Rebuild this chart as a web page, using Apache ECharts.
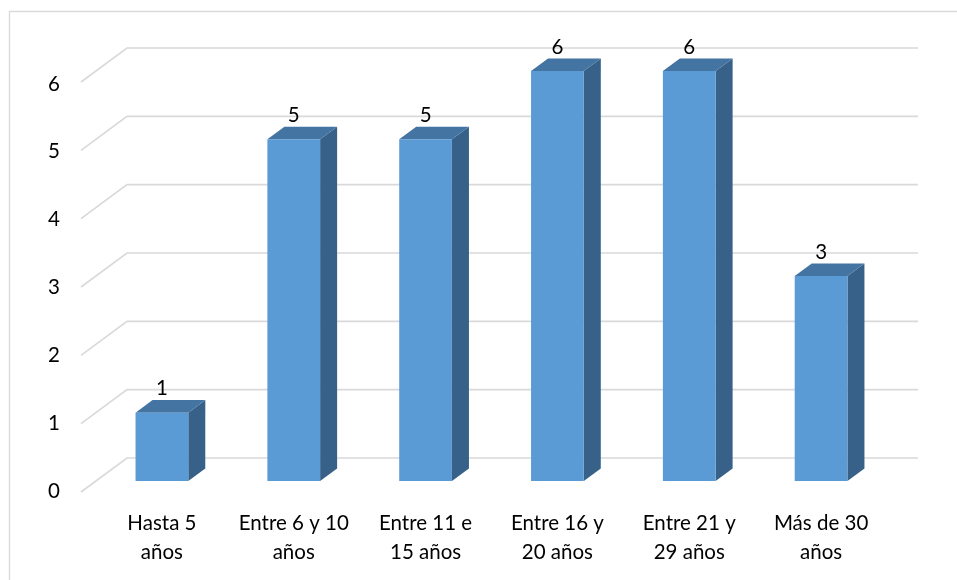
<!DOCTYPE html>
<html>
<head>
<meta charset="utf-8">
<script src="https://cdn.jsdelivr.net/npm/echarts@6/dist/echarts.min.js"></script>
<style>
  html, body { margin: 0; padding: 0; background: #fff; }
  #chart { width: 957px; height: 580px; }
</style>
</head>
<body>
<div id="chart"></div>
<script>
// Years-of-service groups and counts
const categories = ['Hasta 5\naños', 'Entre 6 y 10\naños', 'Entre 11 e\n15 años', 'Entre 16 y\n20 años', 'Entre 21 y\n29 años', 'Más de 30\naños'];
const values = [1, 5, 5, 6, 6, 3];
const yTicks = [0, 1, 2, 3, 4, 5, 6];

// Pseudo-3D projection offsets (pixels)
const WALL_DX = 31, WALL_DY = 23;   // bar front plane -> back wall
const TIP_DX = 15, TIP_DY = 11;     // bar front plane -> front edge of floor
const BAR_DX = 17, BAR_DY = 12.6;   // bar depth
const BAR_RATIO = 0.4;              // bar width relative to category band

const FONT = 'Lato, "Open Sans", sans-serif';
const FONT_SIZE = 20.5;
const GRID_COLOR = '#d9d9d9';

const chart = echarts.init(document.getElementById('chart'));

function renderGridLine(params, api) {
  const v = api.value(0);
  const cs = params.coordSys;
  const y = api.coord([0, v])[1];
  const left = cs.x, right = cs.x + cs.width;
  return {
    type: 'polyline',
    shape: {
      points: [
        [left - TIP_DX, y + TIP_DY],
        [left + WALL_DX, y - WALL_DY],
        [right + WALL_DX, y - WALL_DY]
      ]
    },
    style: { stroke: GRID_COLOR, lineWidth: 1.6, fill: null },
    silent: true
  };
}

function renderBar(params, api) {
  const idx = api.value(0);
  const v = api.value(1);
  const top = api.coord([idx, v]);
  const base = api.coord([idx, 0]);
  const band = api.size([1, 0])[0];
  const w = band * BAR_RATIO;
  const x0 = top[0] - w / 2, x1 = top[0] + w / 2;
  const yt = top[1], yb = base[1];
  return {
    type: 'group',
    children: [
      {
        type: 'polygon',
        shape: { points: [[x1, yt], [x1 + BAR_DX, yt - BAR_DY], [x1 + BAR_DX, yb - BAR_DY], [x1, yb]] },
        style: { fill: '#376189' }
      },
      {
        type: 'polygon',
        shape: { points: [[x0, yt], [x1, yt], [x1 + BAR_DX, yt - BAR_DY], [x0 + BAR_DX, yt - BAR_DY]] },
        style: { fill: '#4474a2' }
      },
      {
        type: 'rect',
        shape: { x: x0, y: yt, width: w, height: yb - yt },
        style: { fill: '#5b9bd5' }
      },
      {
        type: 'text',
        x: top[0], y: yt - 24,
        style: {
          text: String(v),
          fill: '#000',
          font: FONT_SIZE + 'px ' + FONT,
          align: 'center',
          verticalAlign: 'middle'
        }
      }
    ]
  };
}

chart.setOption({
  animation: false,
  backgroundColor: '#fff',
  graphic: [{
    type: 'rect',
    shape: { x: 9.5, y: 11.5, width: 980, height: 600 },
    style: { fill: null, stroke: GRID_COLOR, lineWidth: 1.3 },
    silent: true,
    z: 0
  }],
  grid: [
    { left: 96, right: 70, top: 71, bottom: 99 },
    { left: 81, right: 70, top: 84, bottom: 89 }
  ],
  xAxis: [
    {
      type: 'category',
      gridIndex: 0,
      data: categories,
      axisLine: { show: false },
      axisTick: { show: false },
      axisLabel: {
        interval: 0,
        margin: 28,
        fontSize: FONT_SIZE,
        lineHeight: 29,
        fontFamily: FONT,
        color: '#000'
      }
    },
    { type: 'value', gridIndex: 1, show: false }
  ],
  yAxis: [
    {
      type: 'value',
      gridIndex: 0,
      min: 0, max: 6, interval: 1,
      axisLine: { show: false },
      axisTick: { show: false },
      axisLabel: { show: false },
      splitLine: { show: false }
    },
    {
      type: 'value',
      gridIndex: 1,
      min: 0, max: 6, interval: 1,
      axisLine: { show: false },
      axisTick: { show: false },
      splitLine: { show: false },
      axisLabel: {
        margin: 21,
        fontSize: FONT_SIZE,
        fontFamily: FONT,
        color: '#000'
      }
    }
  ],
  series: [
    {
      type: 'custom',
      xAxisIndex: 0, yAxisIndex: 0,
      renderItem: renderGridLine,
      data: yTicks.map(t => [t]),
      z: 1,
      silent: true
    },
    {
      type: 'custom',
      xAxisIndex: 0, yAxisIndex: 0,
      renderItem: renderBar,
      data: values.map((v, i) => [i, v]),
      z: 2,
      silent: true
    }
  ]
});
</script>
</body>
</html>
